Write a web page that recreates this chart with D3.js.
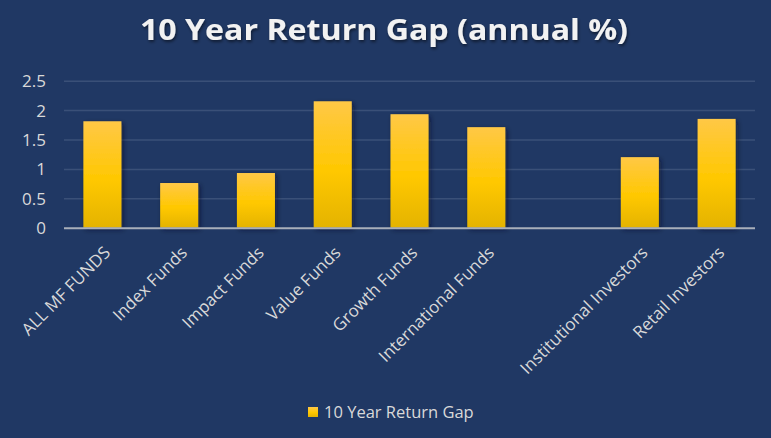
<!DOCTYPE html>
<html>
<head>
<meta charset="utf-8">
<script src="https://cdn.jsdelivr.net/npm/d3@7"></script>
<style>
  html, body { margin: 0; padding: 0; background: #203864; }
  svg { display: block; }
</style>
</head>
<body>
<div id="chart"></div>
<script>
const categories = ["ALL MF FUNDS", "Index Funds", "Impact Funds", "Value Funds", "Growth Funds", "International Funds", "", "Institutional Investors", "Retail Investors"];
const values = [1.81, 0.76, 0.93, 2.15, 1.93, 1.71, null, 1.20, 1.85];
const yTicks = [0, 0.5, 1, 1.5, 2, 2.5];
const seriesName = "10 Year Return Gap";
const title = "10 Year Return Gap (annual %)";

const W = 771, H = 438;
const font = "'Open Sans', 'Noto Sans', sans-serif";
const textColor = "#D9D9D9";

const svg = d3.select("#chart").append("svg").attr("width", W).attr("height", H);
svg.append("rect").attr("width", W).attr("height", H).attr("fill", "#203864");

const defs = svg.append("defs");
const grad = defs.append("linearGradient").attr("id", "barGrad").attr("x1", 0).attr("y1", 0).attr("x2", 0).attr("y2", 1);
grad.append("stop").attr("offset", "0%").attr("stop-color", "#FFC846");
grad.append("stop").attr("offset", "55%").attr("stop-color", "#FFC800");
grad.append("stop").attr("offset", "100%").attr("stop-color", "#E4B300");
const shadow = defs.append("filter").attr("id", "shadow").attr("x", "-30%").attr("y", "-10%").attr("width", "160%").attr("height", "130%");
shadow.append("feDropShadow").attr("dx", 2).attr("dy", 2).attr("stdDeviation", 2.5).attr("flood-color", "#0a1428").attr("flood-opacity", 0.6);
const tshadow = defs.append("filter").attr("id", "tshadow").attr("x", "-10%").attr("y", "-30%").attr("width", "120%").attr("height", "160%");
tshadow.append("feDropShadow").attr("dx", 1).attr("dy", 2).attr("stdDeviation", 1.5).attr("flood-color", "#000").attr("flood-opacity", 0.5);

const x = d3.scaleBand().domain(d3.range(categories.length)).range([64, 755]).paddingInner(0.505).paddingOuter(0.2525);
const y = d3.scaleLinear().domain([0, 2.5]).range([227.7, 80.7]);

// gridlines
const grid = svg.append("g")
  .attr("transform", "translate(64,0)")
  .call(d3.axisLeft(y).tickValues(yTicks.filter(d => d > 0)).tickSize(-(755 - 64)).tickFormat(""));
grid.select(".domain").remove();
grid.selectAll("line").attr("stroke", "#3A5078").attr("stroke-width", 1.5);

// y axis labels
const yAxis = svg.append("g")
  .attr("transform", "translate(46,0)")
  .call(d3.axisLeft(y).tickValues(yTicks).tickSize(0).tickPadding(0).tickFormat(d3.format("")));
yAxis.select(".domain").remove();
yAxis.selectAll("text").attr("fill", textColor).attr("font-family", font).attr("font-size", 17).attr("dy", "0.35em");

// bars
svg.append("g").selectAll("rect")
  .data(values.map((v, i) => ({ v, i })).filter(d => d.v != null))
  .join("rect")
  .attr("x", d => x(d.i))
  .attr("width", x.bandwidth())
  .attr("y", d => y(d.v))
  .attr("height", d => y(0) - y(d.v))
  .attr("fill", "url(#barGrad)")
  .attr("filter", "url(#shadow)");

// x axis
const xAxis = svg.append("g")
  .attr("transform", `translate(0,${y(0)})`)
  .call(d3.axisBottom(x).tickSize(0).tickFormat(i => categories[i]));
xAxis.select(".domain").attr("stroke", "#A9AFBA").attr("stroke-width", 2).attr("d", `M64,0.5H755`);
xAxis.selectAll("text")
  .attr("fill", textColor)
  .attr("font-family", font)
  .attr("font-size", 17)
  .attr("text-anchor", "end")
  .attr("dy", 0)
  .attr("y", 0)
  .attr("transform", "translate(9,26) rotate(-45)");

// title
svg.append("text")
  .attr("x", 384).attr("y", 40)
  .attr("text-anchor", "middle")
  .attr("font-family", font)
  .attr("font-weight", "bold")
  .attr("font-size", 28)
  .attr("fill", "#F2F2F2")
  .attr("textLength", 488)
  .attr("lengthAdjust", "spacingAndGlyphs")
  .attr("filter", "url(#tshadow)")
  .text(title);

// legend
const lg = svg.append("g");
lg.append("rect").attr("x", 308).attr("y", 407).attr("width", 10).attr("height", 10).attr("fill", "url(#barGrad)");
lg.append("text").attr("x", 324).attr("y", 418)
  .attr("font-family", font).attr("font-size", 16.5).attr("fill", textColor)
  .text(seriesName);
</script>
</body>
</html>
